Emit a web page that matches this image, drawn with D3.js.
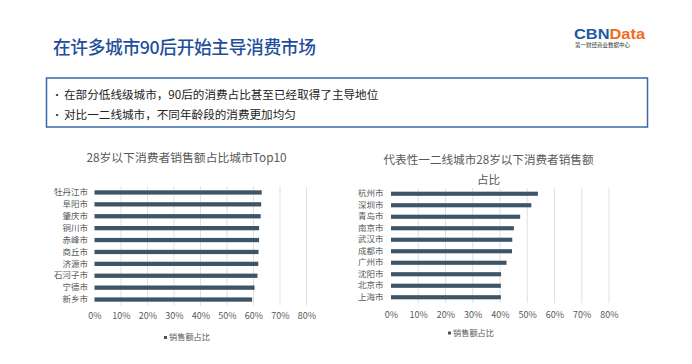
<!DOCTYPE html>
<html>
<head>
<meta charset="utf-8">
<script src="https://cdn.jsdelivr.net/npm/d3@7/dist/d3.min.js"></script>
<style>
html,body{margin:0;padding:0;background:#fff;}
svg{display:block;font-family:"Noto Sans CJK SC","Noto Sans",sans-serif;}
</style>
</head>
<body>
<svg id="c" width="692" height="364"></svg>
<script>
// ---- data ----
const pageTitle = "在许多城市90后开始主导消费市场";
const bullets = ["在部分低线级城市，90后的消费占比甚至已经取得了主导地位", "对比一二线城市，不同年龄段的消费更加均匀"];
const leftTitle = ["28岁以下消费者销售额占比城市Top10"];
const leftCities = ["牡丹江市","阜阳市","肇庆市","铜川市","赤峰市","商丘市","济源市","石河子市","宁德市","新乡市"];
const leftValues = [0.631,0.629,0.627,0.621,0.621,0.619,0.618,0.615,0.604,0.595];
const rightTitle = ["代表性一二线城市28岁以下消费者销售额","占比"];
const rightCities = ["杭州市","深圳市","青岛市","南京市","武汉市","成都市","广州市","沈阳市","北京市","上海市"];
const rightValues = [0.539,0.515,0.474,0.451,0.445,0.444,0.424,0.404,0.403,0.403];
const xTicks = [0,0.1,0.2,0.3,0.4,0.5,0.6,0.7,0.8];
const seriesName = "销售额占比";

const svg = d3.select("#c");
const barColor = "#3e5467";
const textGray = "#595959";

// header
svg.append("text").attr("x",53).attr("y",54).attr("font-size",17.8).attr("font-weight",500).attr("fill","#1f4f9c")
  .attr("textLength",263).attr("lengthAdjust","spacing").text(pageTitle);
const logo = svg.append("text").attr("x",574).attr("y",39).attr("font-size",15).attr("font-weight","bold")
  .attr("font-family","Arial, 'Liberation Sans', sans-serif").attr("textLength",71).attr("lengthAdjust","spacingAndGlyphs");
logo.append("tspan").attr("fill","#1c5aa6").text("CBN");
logo.append("tspan").attr("fill","#f26a21").text("Data");
svg.append("text").attr("x",575).attr("y",46.5).attr("font-size",5.6).attr("fill","#333")
  .attr("textLength",55).attr("lengthAdjust","spacingAndGlyphs").text("第一财经商业数据中心");

// bullet box
svg.append("rect").attr("x",46.5).attr("y",78).attr("width",601).attr("height",49)
  .attr("fill","none").attr("stroke","#3a68ad").attr("stroke-width",1.5);
bullets.forEach((b,i)=>{
  const y = 98.5 + i*20;
  svg.append("text").attr("x",52).attr("y",y).attr("font-size",10).attr("fill","#222").text("•");
  svg.append("text").attr("x",64).attr("y",y).attr("font-size",11.6).attr("fill","#222").text(b);
});

function drawChart(cfg){
  const g = svg.append("g");
  const x = d3.scaleLinear().domain([0,0.8]).range([cfg.x0,cfg.x1]);
  const y = d3.scaleBand().domain(cfg.cats).range([cfg.y0,cfg.y1]).paddingInner(0.64).paddingOuter(0.32);
  // gridlines
  g.selectAll("line.grid").data(xTicks.slice(1)).join("line")
    .attr("x1",d=>x(d)).attr("x2",d=>x(d)).attr("y1",cfg.y0).attr("y2",cfg.y1)
    .attr("stroke","#d9d9d9").attr("stroke-width",0.8);
  // bars
  g.selectAll("rect.bar").data(cfg.vals).join("rect")
    .attr("x",x(0)).attr("y",(d,i)=>y(cfg.cats[i]))
    .attr("width",d=>x(d)-x(0)).attr("height",y.bandwidth()).attr("fill",barColor);
  // category labels
  const ya = d3.axisLeft(y).tickSize(0).tickPadding(0);
  const yg = g.append("g").attr("transform",`translate(${cfg.labelX},0)`).call(ya);
  yg.select(".domain").remove();
  yg.selectAll("text").attr("font-size",8.5).attr("fill",textGray).attr("font-family","Noto Sans CJK SC");
  // x tick labels
  const xa = d3.axisBottom(x).tickValues(xTicks).tickFormat(d3.format(".0%")).tickSize(0).tickPadding(0);
  const xg = g.append("g").attr("transform",`translate(0,${cfg.tickY})`).call(xa);
  xg.select(".domain").remove();
  xg.selectAll("text").attr("font-size",9).attr("fill",textGray).attr("font-family","Noto Sans CJK SC").attr("dy","0.35em");
  // title
  cfg.title.forEach((t,i)=>{
    g.append("text").attr("x",cfg.titleX).attr("y",cfg.titleY + i*20).attr("text-anchor","middle")
      .attr("font-size",cfg.titleSize).attr("fill",textGray).attr("dy","0.35em").text(t);
  });
  // legend
  g.append("rect").attr("x",cfg.legX).attr("y",cfg.legY-1.5).attr("width",3).attr("height",3).attr("fill",barColor);
  g.append("text").attr("x",cfg.legX+5).attr("y",cfg.legY).attr("dy","0.35em").attr("font-size",8.2)
    .attr("fill",textGray).text(seriesName);
}

drawChart({cats:leftCities, vals:leftValues, x0:94.5, x1:306.5, y0:186.5, y1:305.5,
  labelX:88, tickY:315.5, title:leftTitle, titleX:186.5, titleY:157.5, titleSize:11.8, legX:164, legY:337.5});
drawChart({cats:rightCities, vals:rightValues, x0:391, x1:609, y0:188, y1:303,
  labelX:383.5, tickY:314.5, title:rightTitle, titleX:488.5, titleY:159.5, titleSize:11.6, legX:448, legY:333});
</script>
</body>
</html>
